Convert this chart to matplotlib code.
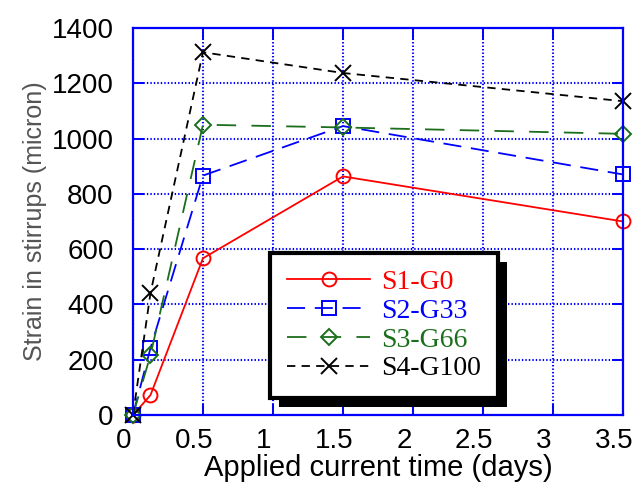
import matplotlib
matplotlib.use("Agg")
import matplotlib.pyplot as plt
from matplotlib.patches import Rectangle
from matplotlib.transforms import IdentityTransform, ScaledTranslation

# dias de corriente aplicada
days = [0, 0.125, 0.5, 1.5, 3.5]

# deformacion en estribos (micron)
s1 = [0, 72, 567, 863, 700]
s2 = [0, 242, 866, 1045, 870]
s3 = [0, 217, 1050, 1040, 1017]
s4 = [0, 441, 1312, 1237, 1135]

labels = ['S1-G0', 'S2-G33', 'S3-G66', 'S4-G100']
xticks = [0, 0.5, 1, 1.5, 2, 2.5, 3, 3.5]
yticks = [0, 200, 400, 600, 800, 1000, 1200, 1400]

blue = '#0000ff'
green = '#1b6e1b'

plt.rcParams['lines.scale_dashes'] = False

fig = plt.figure(figsize=(6.43, 4.9), dpi=100)
ax = fig.add_axes([0.2068, 0.153, 0.7621, 0.790])

ax.plot(days, s1, color='#ff0000', lw=1.3, marker='o', ms=10, mfc='none',
        mew=1.4, label=labels[0], clip_on=False)
ax.plot(days, s2, color=blue, lw=1.3, marker='s', ms=10, mfc='none',
        mew=1.4, dashes=(13, 7), label=labels[1], clip_on=False)
ax.plot(days, s3, color=green, lw=1.3, marker='D', ms=8, mfc='none',
        mew=1.4, dashes=(14, 11), label=labels[2], clip_on=False)
ax.plot(days, s4, color='black', lw=1.3, marker='x', ms=11,
        mew=1.4, dashes=(6, 4.5), label=labels[3], clip_on=False)

ax.set_xlim(0, 3.5)
ax.set_ylim(0, 1400)
ax.set_xticks(xticks)
ax.set_xticklabels(['0', '0.5', '1', '1.5', '2', '2.5', '3', '3.5'])
ax.set_yticks(yticks)

ax.grid(True, color=blue, linestyle=(0, (1, 1.5)), lw=1.5)
for s in ax.spines.values():
    s.set_color(blue)
    s.set_linewidth(1.6)
ax.tick_params(direction='in', length=8, width=1.4, color=blue,
               top=True, right=True, labelsize=20, labelcolor='black')
ax.tick_params(axis='x', pad=9)
ax.tick_params(axis='y', pad=14)
for t in ax.get_xticklabels() + ax.get_yticklabels():
    t.set_fontfamily('Liberation Sans')
for t in ax.get_xticklabels():
    t.set_transform(t.get_transform() + ScaledTranslation(-0.09, 0, fig.dpi_scale_trans))

ax.set_xlabel('Applied current time (days)', fontsize=21,
              fontfamily='Liberation Sans', labelpad=0)
ax.set_ylabel('Strain in stirrups (micron)', fontsize=18,
              fontfamily='Liberation Sans', color='#555555', labelpad=3)

leg = ax.legend(loc='upper left', bbox_to_anchor=(0.28, 0.419),
                borderaxespad=0, fancybox=False, handlelength=3.0,
                handletextpad=0.4, labelspacing=0.12, borderpad=0.6,
                prop={'family': 'Liberation Serif', 'size': 20})
leg.get_frame().set_edgecolor('black')
leg.get_frame().set_linewidth(3)
leg.get_frame().set_alpha(1)
for txt, ln in zip(leg.get_texts(), leg.get_lines()):
    txt.set_color(ln.get_color())

# sombra negra del recuadro
fig.canvas.draw()
bb = leg.get_window_extent()
sombra = Rectangle((bb.x0 + 9, bb.y0 - 9), bb.width, bb.height,
                   transform=IdentityTransform(), facecolor='black',
                   edgecolor='none', zorder=4.9, clip_on=False)
ax.add_patch(sombra)

fig.savefig('out.png', dpi=100)
